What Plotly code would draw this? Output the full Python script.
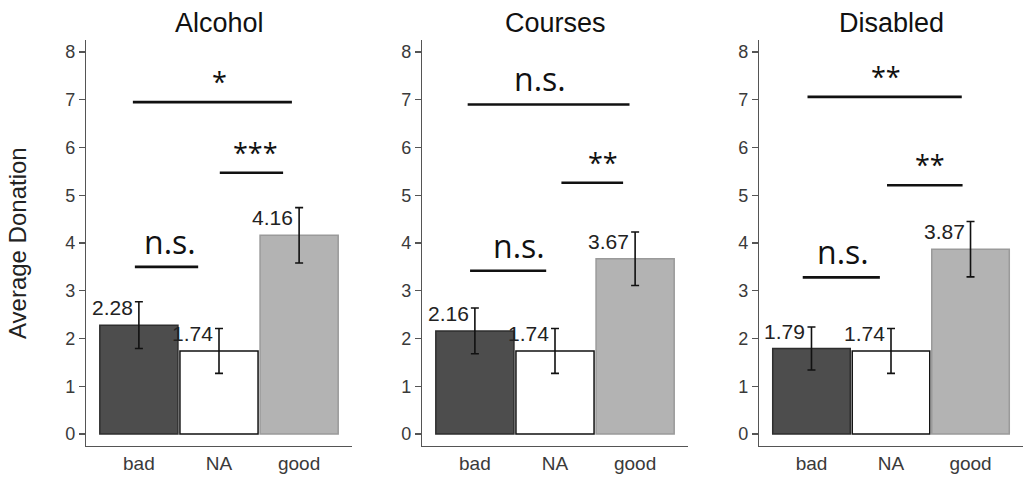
import numpy as np
import plotly.graph_objects as go

categories = ["bad", "NA", "good"]
panel_titles = ["Alcohol", "Courses", "Disabled"]

alcohol_means = [2.28, 1.74, 4.16]
alcohol_errs = [0.49, 0.47, 0.58]
courses_means = [2.16, 1.74, 3.67]
courses_errs = [0.48, 0.47, 0.56]
disabled_means = [1.79, 1.74, 3.87]
disabled_errs = [0.45, 0.47, 0.58]

# significance brackets (x in category units, y in donation units)
alcohol_sig_x0 = [-0.05, 1.01, -0.075]
alcohol_sig_x1 = [0.74, 1.80, 1.91]
alcohol_sig_y = [3.50, 5.47, 6.95]
alcohol_sig_text = ["n.s.", "***", "*"]
alcohol_sig_tx = [0.39, 1.46, 1.0]

courses_sig_x0 = [-0.06, 1.08, -0.09]
courses_sig_x1 = [0.89, 1.85, 1.93]
courses_sig_y = [3.42, 5.26, 6.90]
courses_sig_text = ["n.s.", "**", "n.s."]
courses_sig_tx = [0.55, 1.60, 0.81]

disabled_sig_x0 = [-0.11, 0.95, -0.05]
disabled_sig_x1 = [0.86, 1.90, 1.89]
disabled_sig_y = [3.28, 5.21, 7.06]
disabled_sig_text = ["n.s.", "**", "**"]
disabled_sig_tx = [0.40, 1.49, 0.94]

bar_colors = ["#4d4d4d", "#ffffff", "#b3b3b3"]
bar_lines = ["#2e2e2e", "#111111", "#9a9a9a"]

W, H = 1023, 477
domains_px = [(86, 352), (422, 688), (759, 1023)]

panels = [
    (alcohol_means, alcohol_errs, alcohol_sig_x0, alcohol_sig_x1, alcohol_sig_y, alcohol_sig_text, alcohol_sig_tx),
    (courses_means, courses_errs, courses_sig_x0, courses_sig_x1, courses_sig_y, courses_sig_text, courses_sig_tx),
    (disabled_means, disabled_errs, disabled_sig_x0, disabled_sig_x1, disabled_sig_y, disabled_sig_text, disabled_sig_tx),
]

fig = go.Figure()
annotations = []
xpos = np.arange(len(categories))

for k, (means, errs, sx0, sx1, sy, stext, stx) in enumerate(panels):
    xa = "x" if k == 0 else f"x{k+1}"
    ya = "y" if k == 0 else f"y{k+1}"
    fig.add_trace(go.Bar(
        x=xpos, y=means, width=0.975, xaxis=xa, yaxis=ya,
        marker=dict(color=bar_colors, line=dict(color=bar_lines, width=1.5)),
        error_y=dict(type="data", array=errs, color="#111111", thickness=1.6, width=4),
        showlegend=False, hoverinfo="skip",
    ))
    for i, m in enumerate(means):
        annotations.append(dict(
            x=xpos[i], y=m, xref=xa, yref=ya, text=f"{m:.2f}",
            xanchor="right", yanchor="bottom", xshift=-4, yshift=4, showarrow=False,
            font=dict(family="Liberation Sans, Arial", size=21, color="#222222"),
        ))
    for a, b, y, t, tx in zip(sx0, sx1, sy, stext, stx):
        fig.add_trace(go.Scatter(
            x=[a, b], y=[y, y], mode="lines", xaxis=xa, yaxis=ya,
            line=dict(color="#111111", width=2.6), showlegend=False, hoverinfo="skip",
        ))
        star = t.startswith("*")
        annotations.append(dict(
            x=tx, y=y, xref=xa, yref=ya, text=t, showarrow=False,
            xanchor="center", yanchor="bottom", yshift=(0 if star else 2),
            font=dict(family="Open Sans", size=(27 if star else 32), color="#111111"),
        ))
    x0, x1 = domains_px[k]
    annotations.append(dict(
        x=(x0 + x1) / 2 / W, y=1.043, xref="paper", yref="paper", text=panel_titles[k],
        showarrow=False, xanchor="center", yanchor="middle",
        font=dict(family="Liberation Sans, Arial", size=27, color="#111111"),
    ))

annotations.append(dict(
    x=17 / W, y=0.5, xref="paper", yref="paper", text="Average Donation",
    textangle=-90, showarrow=False, xanchor="center", yanchor="middle",
    font=dict(family="Liberation Sans, Arial", size=24, color="#222222"),
))

layout = dict(
    width=W, height=H, margin=dict(l=0, r=0, t=40, b=31),
    plot_bgcolor="white", paper_bgcolor="white", annotations=annotations,
    bargap=0,
)
for k in range(3):
    x0, x1 = domains_px[k]
    xkey = "xaxis" if k == 0 else f"xaxis{k+1}"
    ykey = "yaxis" if k == 0 else f"yaxis{k+1}"
    layout[xkey] = dict(
        domain=[x0 / W, x1 / W], range=[-0.66, 2.66], tickvals=list(xpos), ticktext=categories,
        showline=True, linecolor="#555555", linewidth=1.2, ticks="", showgrid=False, zeroline=False,
        tickfont=dict(family="Liberation Sans, Arial", size=19, color="#3a3a3a"),
        anchor="y" if k == 0 else f"y{k+1}", fixedrange=True,
    )
    layout[ykey] = dict(
        domain=[0, 1], range=[-0.25, 8.25], tickvals=list(range(0, 9)),
        showline=True, linecolor="#555555", linewidth=1.2, ticks="outside", ticklen=6,
        tickcolor="#555555", tickwidth=1.2, showgrid=False, zeroline=False,
        tickfont=dict(family="Liberation Sans, Arial", size=18, color="#3a3a3a"),
        anchor="x" if k == 0 else f"x{k+1}", fixedrange=True,
    )
fig.update_layout(**layout)
fig.write_html(
    "out.html",
    config={"displayModeBar": False, "staticPlot": True},
    post_script="document.body.style.margin='0';document.body.style.overflow='hidden';",
)
